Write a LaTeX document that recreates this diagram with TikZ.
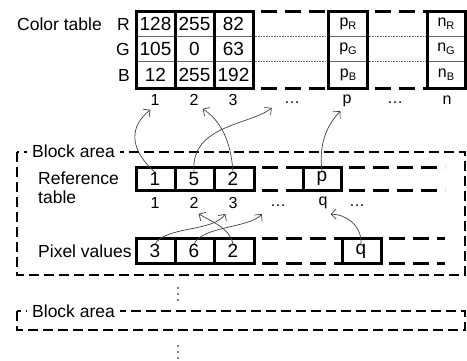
\documentclass[tikz,border=0pt]{standalone}
\usepackage{fontspec}
\setmainfont{Liberation Sans}
\usetikzlibrary{arrows.meta}
\begin{document}
\begin{tikzpicture}[x=1pt,y=-1pt,
  lbl/.style={font=\fontsize{17.5}{19.5}\selectfont, inner sep=0pt},
  val/.style={font=\fontsize{19}{21}\selectfont, inner sep=0pt},
  sub/.style={font=\fontsize{16}{18}\selectfont, inner sep=0pt},
  idx/.style={font=\fontsize{16}{18}\selectfont, inner sep=0pt},
  tbl/.style={line width=3pt},
  dsh/.style={line width=3pt, dash pattern=on 16pt off 8pt, dash phase=16pt},
  blk/.style={line width=1.4pt, dash pattern=on 10pt off 5pt},
  rowline/.style={line width=0.7pt, black!60},
  dotline/.style={line width=0.6pt, black!60, densely dotted},
  link/.style={draw=black!75, line width=0.7pt, -{Straight Barb[length=5pt,width=10pt]}},
  blklbl/.style={font=\fontsize{17.5}{19.5}\selectfont, fill=white, inner xsep=5pt, inner ysep=2pt, anchor=west},
  vdot/.style={circle, fill=black, inner sep=0pt, minimum size=1.8pt},
]
\useasboundingbox (0,0) rectangle (467,360);

% ---------- Block areas ----------
\draw[blk] (17,152) rectangle (465,275);
\node[blklbl] (blk1) at (27,151) {Block area};
\draw[blk] (17,311) rectangle (465,330);
\node[blklbl] (blk2) at (27,311) {Block area};

% ---------- Color table ----------
\node[lbl, anchor=west] (ctitle) at (17,24) {Color table};
\node[lbl, anchor=east] (lR) at (130,24) {R};
\node[lbl, anchor=east] (lG) at (130,49) {G};
\node[lbl, anchor=east] (lB) at (130,75) {B};

\draw[rowline] (136,36) -- (253,36) (136,61) -- (253,61);
\draw[dotline] (253,36) -- (328,36) (253,61) -- (328,61);
\draw[rowline] (328,36) -- (367,36) (328,61) -- (367,61);
\draw[dotline] (367,36) -- (427,36) (367,61) -- (427,61);
\draw[rowline] (427,36) -- (465,36) (427,61) -- (465,61);

\draw[tbl] (136,11) rectangle (253,88);
\draw[tbl] (175,11) -- (175,88) (214,11) -- (214,88);
\draw[dsh] (253,11) -- (328,11) (253,88) -- (328,88);
\draw[tbl] (328,11) rectangle (367,88);
\draw[dsh] (367,11) -- (427,11) (367,88) -- (427,88);
\draw[tbl] (427,11) rectangle (465,88);

\node[val] (c11) at (155.5,24) {128};
\node[val] (c12) at (194.5,24) {255};
\node[val] (c13) at (233.5,24) {82};
\node[val] (c21) at (155.5,49) {105};
\node[val] (c22) at (194.5,49) {0};
\node[val] (c23) at (233.5,49) {63};
\node[val] (c31) at (155.5,75) {12};
\node[val] (c32) at (194.5,75) {255};
\node[val] (c33) at (233.5,75) {192};
\node[sub] (pR) at (348,24) {p\raisebox{-0.35ex}{\fontsize{11}{12}\selectfont R}};
\node[sub] (pG) at (348,49) {p\raisebox{-0.35ex}{\fontsize{11}{12}\selectfont G}};
\node[sub] (pB) at (348,75) {p\raisebox{-0.35ex}{\fontsize{11}{12}\selectfont B}};
\node[sub] (nR) at (446,24) {n\raisebox{-0.35ex}{\fontsize{11}{12}\selectfont R}};
\node[sub] (nG) at (446,49) {n\raisebox{-0.35ex}{\fontsize{11}{12}\selectfont G}};
\node[sub] (nB) at (446,75) {n\raisebox{-0.35ex}{\fontsize{11}{12}\selectfont B}};

\node[idx] (ci1) at (155,100) {1};
\node[idx] (ci2) at (194,100) {2};
\node[idx] (ci3) at (233,100) {3};
\node[idx] (cid1) at (292,103) {…};
\node[idx] (cip) at (347,101) {p};
\node[idx] (cid2) at (395,103) {…};
\node[idx] (cin) at (447,100) {n};

% ---------- Reference table ----------
\node[lbl, anchor=west, align=left] (reflbl) at (38,187.5) {Reference\\table};
\draw[tbl] (136,167) rectangle (254,190);
\draw[tbl] (175,167) -- (175,190) (214,167) -- (214,190);
\draw[dsh] (254,167) -- (303,167) (254,190) -- (303,190);
\draw[tbl] (303,167) rectangle (341,190);
\draw[dsh] (341,167) -- (445,167) (341,190) -- (445,190);

\node[val] (r1) at (155,179) {1};
\node[val] (r2) at (194,179) {5};
\node[val] (r3) at (233,179) {2};
\node[val] (rp) at (322,178) {p};

\node[idx] (ri1) at (155,203) {1};
\node[idx] (ri2) at (194,203) {2};
\node[idx] (ri3) at (233,203) {3};
\node[idx] (rid1) at (278,206) {…};
\node[idx] (riq) at (323,203) {q};
\node[idx] (rid2) at (357,206) {…};

% ---------- Pixel values ----------
\node[lbl, anchor=west] (pixlbl) at (38,251) {Pixel values};
\draw[tbl] (136,238) rectangle (254,263);
\draw[tbl] (175,238) -- (175,263) (214,238) -- (214,263);
\draw[dsh] (254,238) -- (342,238) (254,263) -- (342,263);
\draw[tbl] (342,238) rectangle (381,263);
\draw[dsh] (381,238) -- (445,238) (381,263) -- (445,263);

\node[val] (v1) at (155,251) {3};
\node[val] (v2) at (194,251) {6};
\node[val] (v3) at (233,251) {2};
\node[val] (vq) at (361,251) {q};

% ---------- vertical dots ----------
\node[vdot] (vd1a) at (178,288) {};
\node[vdot] (vd1b) at (178,294) {};
\node[vdot] (vd1c) at (178,300) {};
\node[vdot] (vd2a) at (178,346) {};
\node[vdot] (vd2b) at (178,352) {};
\node[vdot] (vd2c) at (178,358) {};

% ---------- links ----------
\draw[link] (r1.north) .. controls (128,148) and (130,126) .. ([yshift=-4pt]ci1.south west);
\draw[link] (r2.north) .. controls (190,125) and (250,125) .. ([xshift=-12pt,yshift=-5pt]cid1.west);
\draw[link] (r3.north) .. controls (231,140) and (220,120) .. ([xshift=4pt,yshift=-3pt]ci2.south east);
\draw[link] (rp.north) .. controls (318,140) and (330,122) .. ([xshift=-2pt,yshift=-4pt]cip.south west);

\draw[link] (v1.north) .. controls (166,226) and (213,232) .. ([xshift=-3pt,yshift=-5pt]ri3.south west);
\draw[link] (v2.north) .. controls (202,226) and (250,228) .. ([xshift=-8pt,yshift=-8pt]rid1.west);
\draw[link] (v3.north) .. controls (230,228) and (212,222) .. ([yshift=-5pt]ri2.south east);
\draw[link] (vq.north) .. controls (362,225) and (345,214) .. ([xshift=3pt,yshift=-5pt]riq.south east);
\end{tikzpicture}
\end{document}
